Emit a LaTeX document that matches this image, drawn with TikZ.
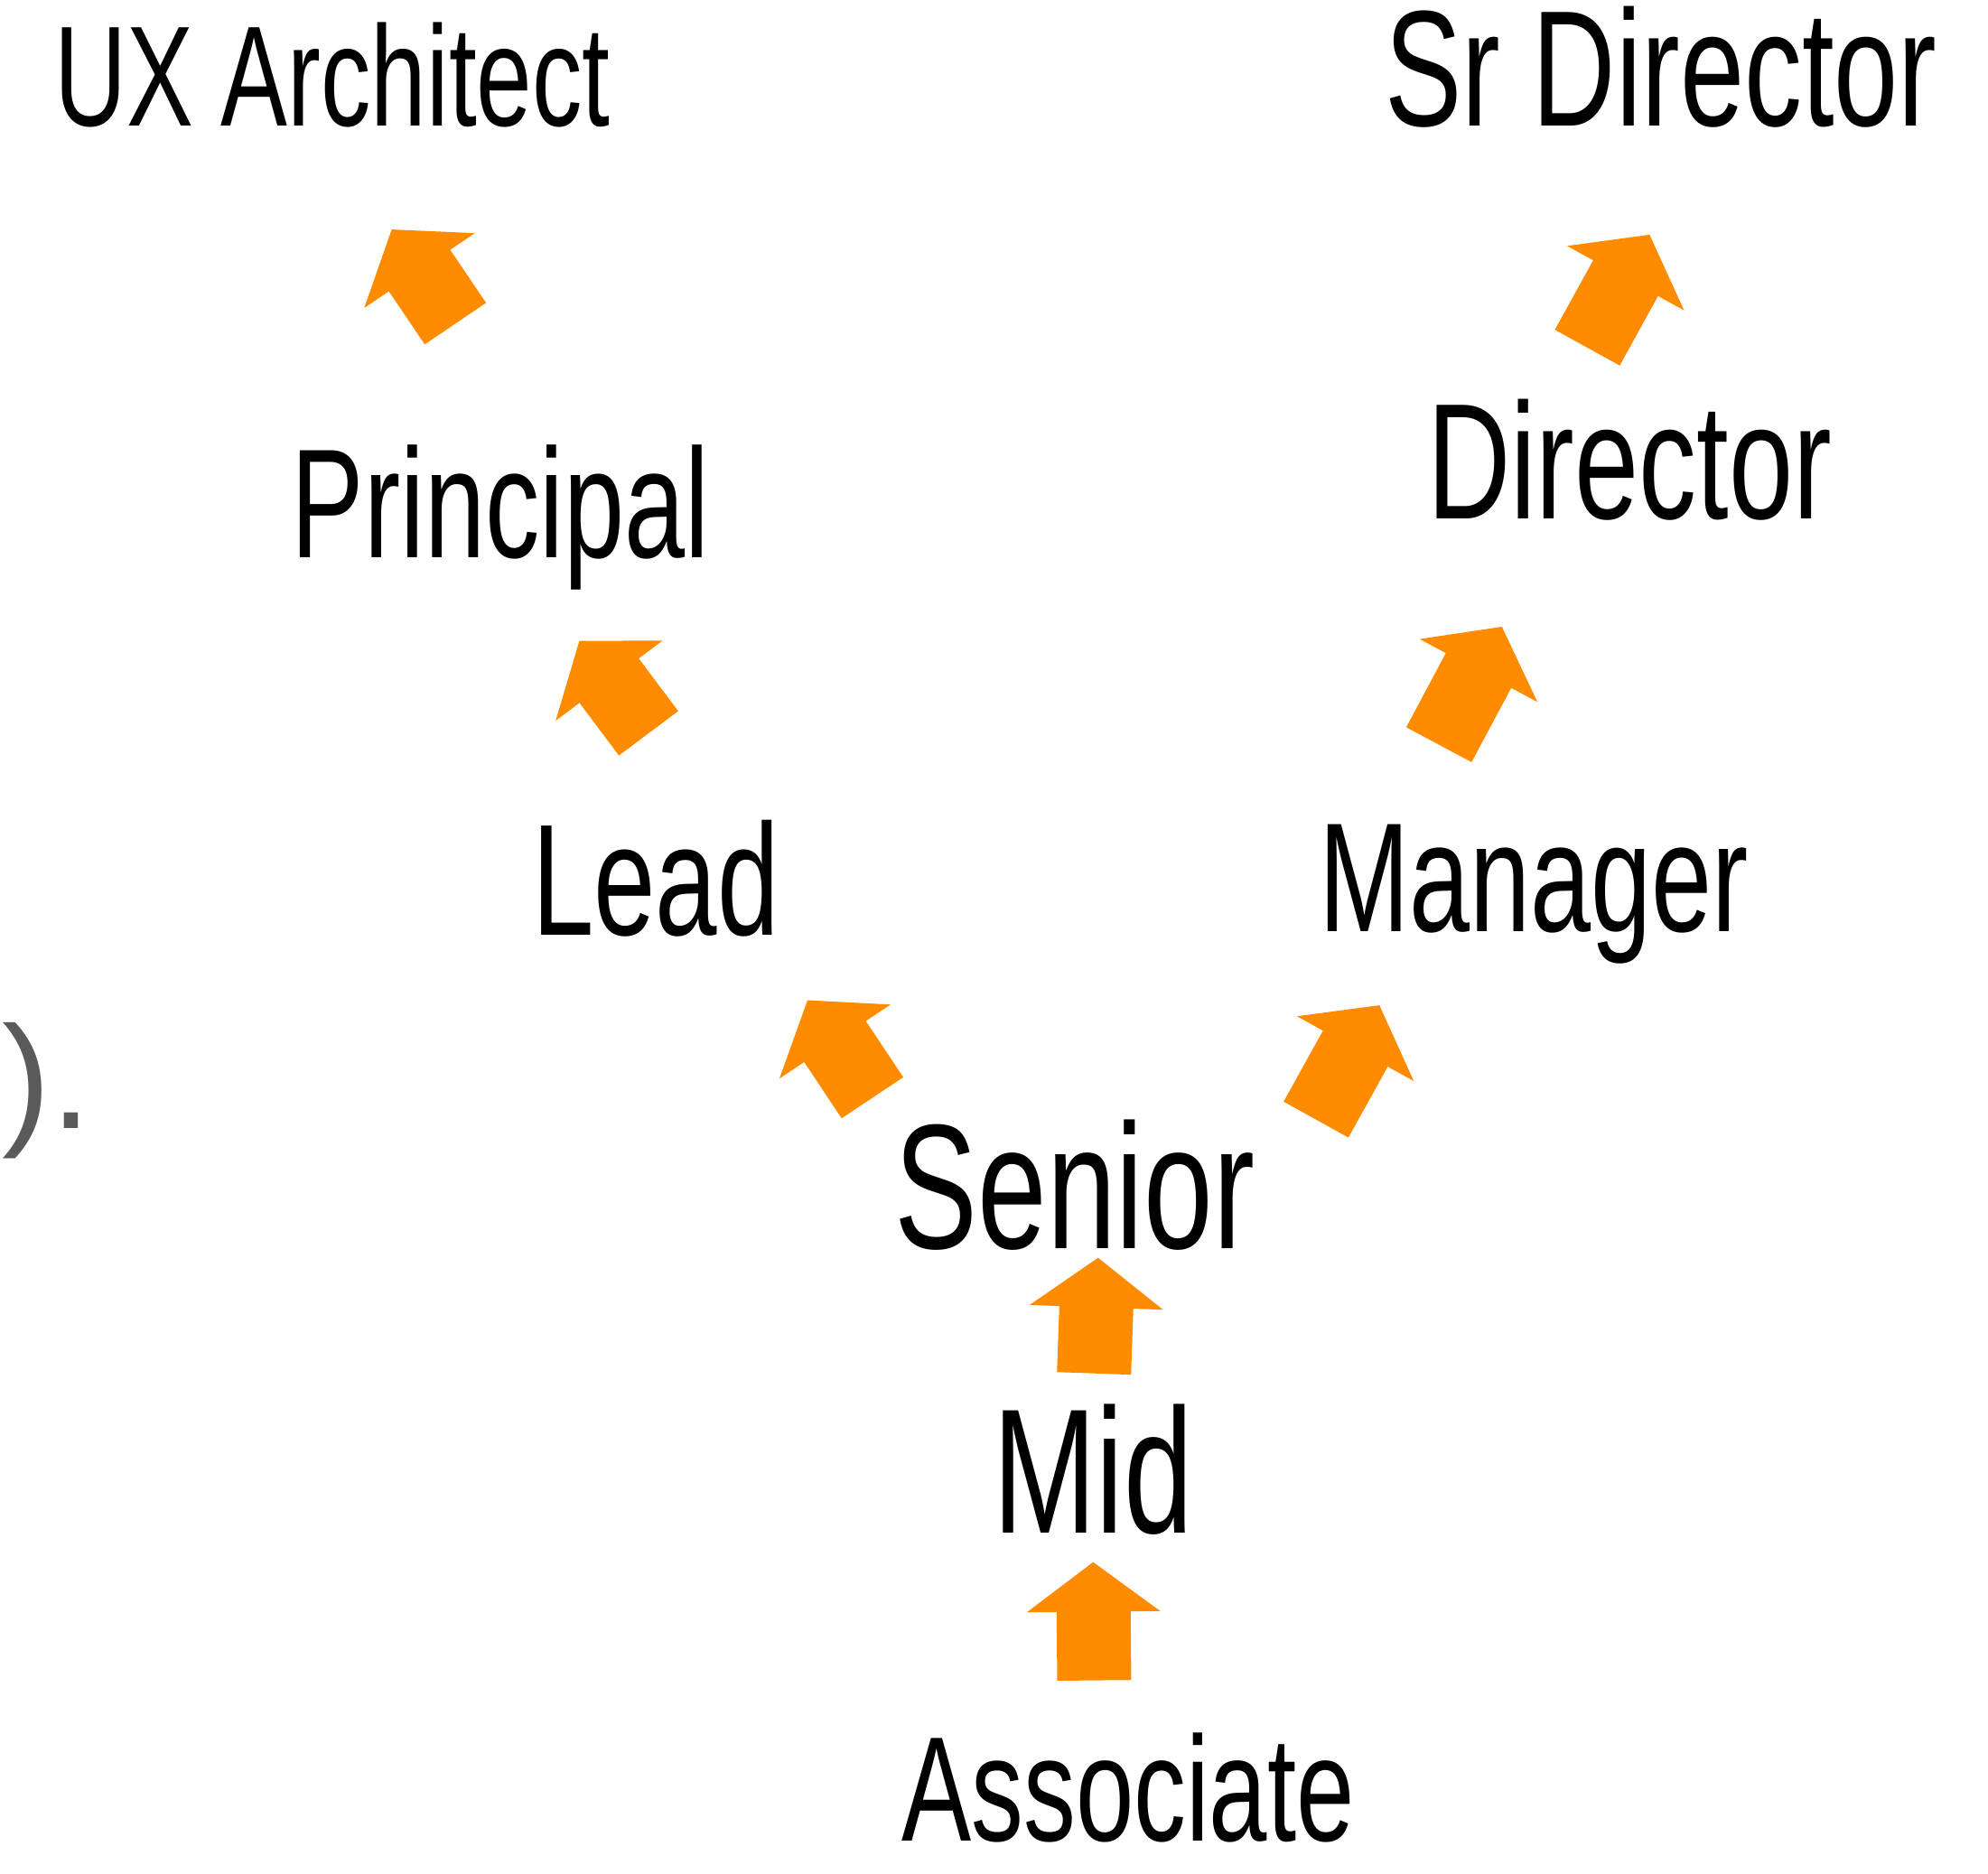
\documentclass[tikz,border=0pt]{standalone}
\usepackage{fontspec}
\usepackage{xcolor}
\usepackage{tikz}
\usetikzlibrary{arrows.meta}

\newfontfamily\handfont[FakeStretch=0.7]{Liberation Sans}
\newfontfamily\plainfont{Liberation Sans}
\definecolor{rungorange}{HTML}{FF8C00}
\definecolor{edgegray}{HTML}{5A5A5A}

\begin{document}
\begin{tikzpicture}[
  title/.style={anchor=base, inner sep=0pt, font=\handfont\fontsize{#1}{#1}\selectfont},
  title/.default=50,
  rung/.style={draw=rungorange, line width=0.82cm, -{Triangle[width=1.45cm, length=0.55cm]}}
]
\useasboundingbox (0,0) rectangle (22.01,20.75);

\node [title=45] (ux) at (3.68, 19.35) {UX Architect};
\node [title=52] (srdir) at (18.39, 19.35) {Sr Director};
\node [title=49] (principal) at (5.54, 14.57) {Principal};
\node [title=52] (director) at (18.04, 15.00) {Director};
\node [title] (lead) at (7.26, 10.39) {Lead};
\node [title=49] (manager) at (16.98, 10.43) {Manager};
\node [title=56] (senior) at (11.90, 6.92) {Senior};
\node [title=56] (mid) at (12.10, 3.77) {Mid};
\node [title=47] (assoc) at (12.49, 0.36) {Associate};
\node [anchor=base west, inner sep=0pt, text=edgegray, font=\plainfont\fontsize{46}{46}\selectfont] (paren) at (0.02, 8.25) {).};

\draw [rung, shorten <=0.58cm, shorten >=0.29cm] ([xshift=-0.37cm]assoc.north) -- (mid.south);
\draw [rung, shorten <=0.34cm, shorten >=0.07cm] (mid.north) -- ([xshift=0.26cm]senior.south);
\draw [rung, shorten <=0.29cm, shorten >=0.83cm] ([xshift=-2.08cm]senior.north) -- ([xshift=1.22cm]lead.south);
\draw [rung, shorten >=0.51cm] ([xshift=2.67cm]senior.north) -- ([xshift=-1.46cm]manager.south);
\draw [rung, shorten <=1.20cm, shorten >=0.69cm] ([xshift=0.64cm]lead.north) -- ([xshift=0.46cm]principal.south);
\draw [rung, shorten <=1.62cm, shorten >=1.35cm] ([xshift=0.41cm]principal.north) -- ([xshift=-0.10cm]ux.south);
\draw [rung, shorten <=1.00cm, shorten >=1.32cm] ([xshift=-1.52cm]manager.north) -- ([xshift=-0.79cm]director.south);
\draw [rung, shorten <=0.65cm, shorten >=1.34cm] ([xshift=-0.78cm]director.north) -- ([xshift=0.52cm]srdir.south);
\end{tikzpicture}
\end{document}
